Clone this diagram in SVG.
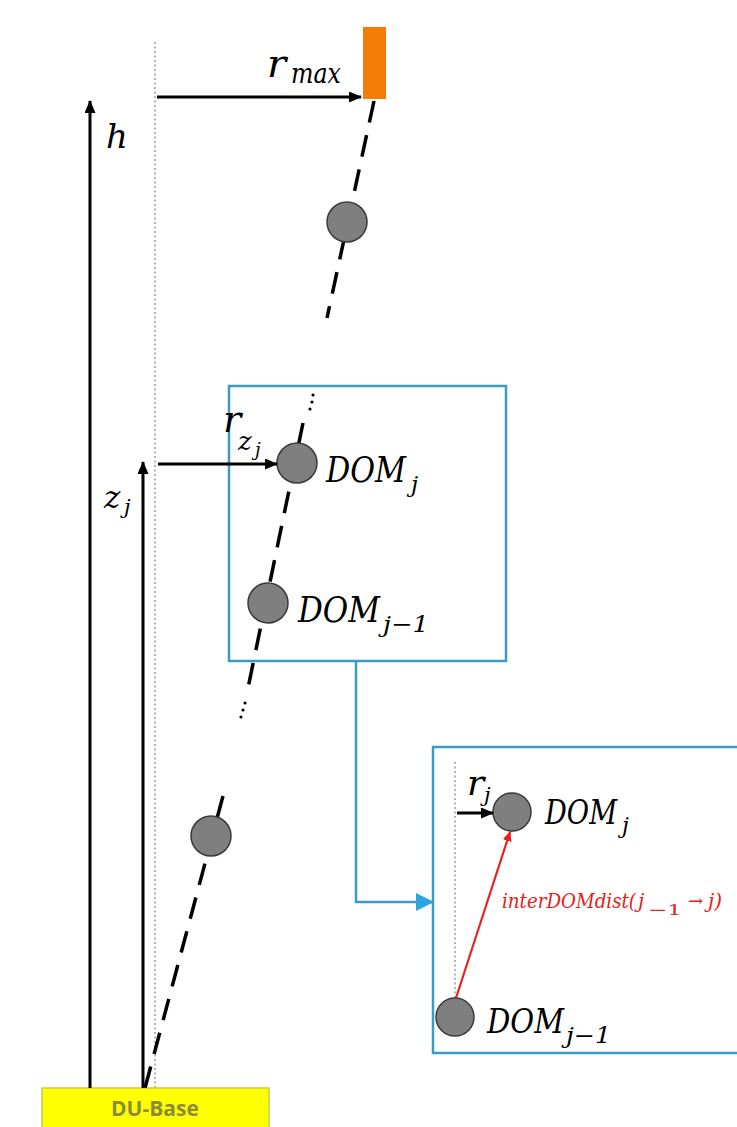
<svg xmlns="http://www.w3.org/2000/svg" width="737" height="1127" viewBox="0 0 737 1127">
<style>
.math{font-family:"DejaVu Serif","Liberation Serif",serif;font-style:italic;fill:#000}
.dot{stroke:#b3b3b3;stroke-width:2;stroke-dasharray:2 2.5;fill:none}
.arr{stroke:#000;stroke-width:3;fill:none}
.str{stroke:#000;stroke-width:3.5;fill:none;stroke-dasharray:22 13}
.dom{fill:#7f7f7f;stroke:#3a3a3a;stroke-width:1.5}
.box{fill:none;stroke:#3c9ac6;stroke-width:2.5}
</style>
<defs>
<marker id="ah" markerUnits="userSpaceOnUse" markerWidth="13" markerHeight="11" refX="12" refY="5.5" orient="auto"><path d="M0,0 L13,5.5 L0,11 z" fill="#000"/></marker>
<marker id="ahb" markerUnits="userSpaceOnUse" markerWidth="18" markerHeight="18" refX="17" refY="9" orient="auto"><path d="M0,0 L18,9 L0,18 z" fill="#2aa6de"/></marker>
<marker id="ahr" markerUnits="userSpaceOnUse" markerWidth="10" markerHeight="9" refX="9" refY="4.5" orient="auto"><path d="M0,0 L10,4.5 L0,9 z" fill="#e82020"/></marker>
</defs>
<rect width="737" height="1127" fill="#fff"/>

<g id="axis">
<line class="dot" x1="155" y1="42" x2="155" y2="1088"/>
</g>

<g id="du-base">
<rect x="42" y="1088" width="227" height="42" fill="#ffff00" stroke="#c9c94a" stroke-width="1.5"/>
<text x="155" y="1116" text-anchor="middle" font-family="'Open Sans','Liberation Sans',sans-serif" font-weight="bold" font-size="21" fill="#8b8b3b">DU-Base</text>
</g>

<g id="buoy">
<rect x="363" y="27" width="23" height="72" fill="#f47d0a"/>
</g>

<g id="string">
<line class="str" x1="374" y1="101" x2="327" y2="318"/>
<line class="str" x1="303" y1="423" x2="248" y2="688"/>
<line class="str" x1="223" y1="796" x2="145" y2="1088"/>
<circle cx="313" cy="395" r="1.6" fill="#000"/>
<circle cx="312" cy="402" r="1.6" fill="#000"/>
<circle cx="310" cy="409" r="1.6" fill="#000"/>
<circle cx="245" cy="703" r="1.6" fill="#000"/>
<circle cx="243" cy="710" r="1.6" fill="#000"/>
<circle cx="241" cy="717" r="1.6" fill="#000"/>
</g>

<g id="dom-top"><circle class="dom" cx="347" cy="222" r="20"/></g>
<g id="dom-bottom"><circle class="dom" cx="211" cy="836" r="20"/></g>

<g id="zoom-box">
<rect class="box" x="229" y="386" width="277" height="275"/>
<g id="dom-j"><circle class="dom" cx="297" cy="463" r="20"/>
<text class="math" x="326" y="482" font-size="35" textLength="80" lengthAdjust="spacingAndGlyphs">DOM</text>
<text class="math" x="411" y="492" font-size="23">j</text></g>
<g id="dom-j-1"><circle class="dom" cx="268" cy="603" r="20"/>
<text class="math" x="298" y="622" font-size="35" textLength="82" lengthAdjust="spacingAndGlyphs">DOM</text>
<text class="math" x="383" y="632" font-size="23" textLength="46" lengthAdjust="spacingAndGlyphs">j−1</text></g>
</g>

<g id="detail-box">
<rect class="box" x="433" y="747" width="320" height="306"/>
<line class="dot" x1="455" y1="762" x2="455" y2="1000"/>
<g id="detail-dom-j"><circle class="dom" cx="512" cy="812" r="19"/>
<text class="math" x="545" y="824" font-size="33" textLength="72" lengthAdjust="spacingAndGlyphs">DOM</text>
<text class="math" x="622" y="833" font-size="22">j</text></g>
<g id="detail-dom-j-1"><circle class="dom" cx="455" cy="1017" r="19"/>
<text class="math" x="487" y="1033" font-size="33" textLength="77" lengthAdjust="spacingAndGlyphs">DOM</text>
<text class="math" x="566" y="1043" font-size="22" textLength="45" lengthAdjust="spacingAndGlyphs">j−1</text></g>
</g>

<g id="connectors">
<line class="arr" x1="90" y1="1088" x2="90" y2="101" marker-end="url(#ah)"/>
<line class="arr" x1="143" y1="1088" x2="143" y2="462" marker-end="url(#ah)"/>
<line class="arr" x1="157" y1="97" x2="361" y2="97" marker-end="url(#ah)"/>
<line class="arr" x1="158" y1="464" x2="277" y2="464" marker-end="url(#ah)"/>
<line class="arr" x1="457" y1="813" x2="493" y2="813" stroke-width="2.5" marker-end="url(#ah)"/>
<polyline points="356,661 356,902 433,902" fill="none" stroke="#3c9ac6" stroke-width="2.5" marker-end="url(#ahb)"/>
<line x1="456" y1="998" x2="510" y2="832" stroke="#e82020" stroke-width="2.2" marker-end="url(#ahr)"/>
</g>

<g id="labels">
<text class="math" x="106" y="148" font-size="34">h</text>
<text class="math" x="267" y="77" font-size="40">r</text>
<text class="math" x="291" y="83" font-size="28" textLength="50" lengthAdjust="spacingAndGlyphs">max</text>
<text class="math" x="223" y="432" font-size="38">r</text>
<text class="math" x="238" y="450" font-size="26">z</text>
<text class="math" x="255" y="456" font-size="18">j</text>
<text class="math" x="104" y="508" font-size="31">z</text>
<text class="math" x="124" y="514" font-size="21">j</text>
<text class="math" x="467" y="795" font-size="36">r</text>
<text class="math" x="484" y="802" font-size="21">j</text>
<g font-family="'DejaVu Serif','Liberation Serif',serif" font-style="italic" fill="#e82020">
<text x="502" y="908" font-size="20" textLength="134" lengthAdjust="spacingAndGlyphs">interDOMdist(</text>
<text x="638" y="908" font-size="20">j</text>
<text x="648" y="915" font-size="15" font-style="normal" textLength="34" lengthAdjust="spacingAndGlyphs">−1</text>
<text x="688" y="907" font-size="18" font-style="normal">→</text>
<text x="708" y="908" font-size="20">j)</text>
</g>
</g>
</svg>
